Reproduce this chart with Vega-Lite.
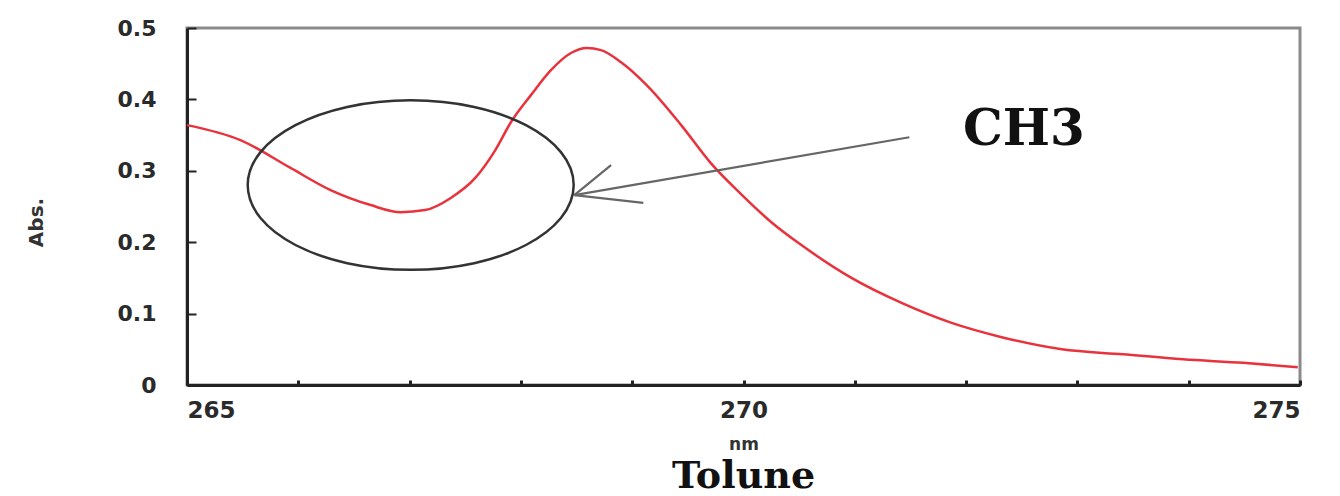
{
  "$schema": "https://vega.github.io/schema/vega-lite/v6.json",
  "width": 1113,
  "height": 357,
  "autosize": "none",
  "padding": {"left": 187, "top": 28, "right": 40, "bottom": 111},
  "background": "white",
  "config": {
    "view": {"stroke": "#8a8a8a", "strokeWidth": 3},
    "axis": {"grid": false},
    "axisX": {"titleFont": "DejaVu Sans", "titleFontSize": 17, "titleFontWeight": "bold", "titleColor": "#333", "titlePadding": 14},
    "axisY": {"titleFont": "DejaVu Sans", "titleFontSize": 20, "titleFontWeight": "bold", "titleColor": "#333"}
  },
  "title": {
    "text": "Tolune",
    "orient": "bottom",
    "font": "DejaVu Serif",
    "fontWeight": "bold",
    "fontSize": 38,
    "color": "#111",
    "offset": 6
  },
  "datasets": {
    "spectrum": [
      {"nm": 265.0, "abs": 0.364},
      {"nm": 265.48, "abs": 0.343},
      {"nm": 265.93, "abs": 0.304},
      {"nm": 266.29, "abs": 0.273},
      {"nm": 266.65, "abs": 0.252},
      {"nm": 266.92, "abs": 0.242},
      {"nm": 267.14, "abs": 0.245},
      {"nm": 267.37, "abs": 0.262},
      {"nm": 267.59, "abs": 0.29},
      {"nm": 267.77, "abs": 0.329},
      {"nm": 267.91, "abs": 0.368},
      {"nm": 268.09, "abs": 0.406},
      {"nm": 268.27, "abs": 0.441},
      {"nm": 268.45, "abs": 0.465},
      {"nm": 268.59, "abs": 0.472},
      {"nm": 268.72, "abs": 0.469},
      {"nm": 268.9, "abs": 0.452},
      {"nm": 269.13, "abs": 0.42},
      {"nm": 269.44, "abs": 0.364},
      {"nm": 269.71, "abs": 0.31},
      {"nm": 269.98, "abs": 0.267},
      {"nm": 270.25, "abs": 0.228},
      {"nm": 270.52, "abs": 0.196},
      {"nm": 270.97, "abs": 0.15},
      {"nm": 271.42, "abs": 0.115},
      {"nm": 271.87, "abs": 0.087},
      {"nm": 272.32, "abs": 0.067},
      {"nm": 272.86, "abs": 0.05},
      {"nm": 273.41, "abs": 0.043},
      {"nm": 273.95, "abs": 0.036},
      {"nm": 274.49, "abs": 0.031},
      {"nm": 274.98, "abs": 0.025}
    ],
    "arrow": [
      {"x1": 271.49, "y1": 0.347, "x2": 268.48, "y2": 0.266},
      {"x1": 268.48, "y1": 0.266, "x2": 268.81, "y2": 0.308},
      {"x1": 268.48, "y1": 0.266, "x2": 269.1, "y2": 0.255}
    ],
    "circle": [{"nm": 267.01, "abs": 0.28}],
    "label": [{"nm": 272.52, "abs": 0.357, "text": "CH3"}]
  },
  "layer": [
    {
      "data": {"name": "spectrum"},
      "mark": {"type": "line", "color": "#e8323c", "strokeWidth": 2.5, "interpolate": "monotone"},
      "encoding": {
        "x": {
          "field": "nm", "type": "quantitative",
          "scale": {"domain": [265, 275], "nice": false, "zero": false},
          "axis": {
            "title": "nm",
            "values": [265, 266, 267, 268, 269, 270, 271, 272, 273, 274, 275],
            "format": "d",
            "labelExpr": "datum.value % 5 === 0 ? datum.label : ''",
            "labelFont": "DejaVu Sans", "labelFontSize": 23, "labelFontWeight": "bold", "labelColor": "#2a2a2a",
            "labelPadding": 19,
            "tickSize": -5, "tickColor": "#222", "tickWidth": 3,
            "domainColor": "#222", "domainWidth": 3
          }
        },
        "y": {
          "field": "abs", "type": "quantitative",
          "scale": {"domain": [0, 0.5], "nice": false},
          "axis": {
            "title": "Abs.",
            "titleAngle": -90, "titleAlign": "center", "titleBaseline": "middle",
            "titleX": -151, "titleY": 194,
            "values": [0, 0.1, 0.2, 0.3, 0.4, 0.5],
            "format": ".1~f",
            "labelFont": "DejaVu Sans", "labelFontSize": 22, "labelFontWeight": "bold", "labelColor": "#2a2a2a",
            "labelPadding": 40,
            "tickSize": -9, "tickColor": "#222", "tickWidth": 2,
            "domainColor": "#222", "domainWidth": 3
          }
        }
      }
    },
    {
      "data": {"name": "circle"},
      "mark": {
        "type": "point",
        "shape": "M -1 0 A 1 0.52 0 1 1 1 0 A 1 0.52 0 1 1 -1 0 Z",
        "size": 106276,
        "filled": false,
        "stroke": "#333",
        "strokeWidth": 2.5,
        "opacity": 1
      },
      "encoding": {
        "x": {"field": "nm", "type": "quantitative"},
        "y": {"field": "abs", "type": "quantitative"}
      }
    },
    {
      "data": {"name": "arrow"},
      "mark": {"type": "rule", "color": "#666", "strokeWidth": 2.2},
      "encoding": {
        "x": {"field": "x1", "type": "quantitative"},
        "y": {"field": "y1", "type": "quantitative"},
        "x2": {"field": "x2"},
        "y2": {"field": "y2"}
      }
    },
    {
      "data": {"name": "label"},
      "mark": {"type": "text", "font": "DejaVu Serif", "fontWeight": "bold", "fontSize": 50, "color": "#111", "align": "center", "baseline": "middle"},
      "encoding": {
        "x": {"field": "nm", "type": "quantitative"},
        "y": {"field": "abs", "type": "quantitative"},
        "text": {"field": "text"}
      }
    }
  ]
}
